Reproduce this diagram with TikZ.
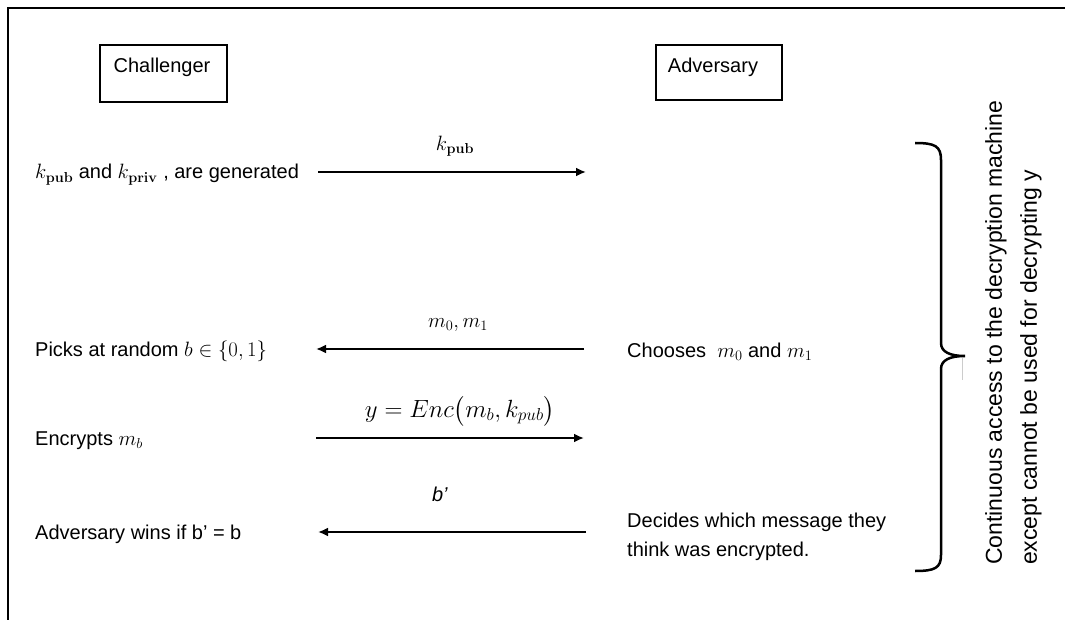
\documentclass[tikz,border=0pt]{standalone}
\usepackage{amsmath}
\usepackage[no-math]{fontspec}
\setmainfont{Liberation Sans}
\usetikzlibrary{arrows.meta}
\begin{document}
\begin{tikzpicture}[x=1pt,y=-1pt,
  txt/.style={font=\fontsize{20}{29}\selectfont, inner sep=0},
  box/.style={draw, line width=1.5pt, minimum width=127pt, minimum height=57pt, inner sep=0},
  msg/.style={line width=2.2pt, -{Latex[length=10pt,width=9pt]}},
  lbl/.style={font=\fontsize{20}{24}\selectfont, inner sep=0}]
\useasboundingbox (0,0) rectangle (1065,620);
% frame
\draw[line width=2pt] (8,620) -- (8,8) -- (1065,8);
% participants
\node[box] (chbox) at (163.5,73.5) {};
\node[txt, anchor=base] (ch) at (162,73) {Challenger};
\node[box, minimum width=126pt, minimum height=55pt] (adbox) at (719,72.5) {};
\node[txt, anchor=base] (ad) at (713,73) {Adversary};
% row 1
\node[txt, anchor=base west] (gen) at (35,179) {$k_{\mathbf{pub}}$ and $k_{\mathbf{priv}}$ , are generated};
\coordinate (a1s) at (318,172);
\coordinate (a1e) at (586,172);
\draw[msg] (a1s) -- (a1e);
\node[lbl] (l1) at (455,146) {$k_{\mathbf{pub}}$};
% row 2
\node[txt, anchor=base west] (pick) at (35,356) {Picks at random $b \in \{0,1\}$};
\coordinate (a2s) at (584,349);
\coordinate (a2e) at (316,349);
\draw[msg] (a2s) -- (a2e);
\node[lbl] (l2) at (458,325) {$m_0, m_1$};
\node[txt, anchor=base west] (choose) at (627,357) {Chooses\ \ $m_0$ and $m_1$};
% row 3
\node[lbl, font=\fontsize{23}{27}\selectfont] (l3) at (460,411) {$y = Enc\bigl(m_b, k_{pub}\bigr)$};
\node[txt, anchor=base west] (enc) at (35,445) {Encrypts $m_b$};
\coordinate (a3s) at (316,438);
\coordinate (a3e) at (584,438);
\draw[msg] (a3s) -- (a3e);
% row 4
\node[lbl] (l4) at (440,494) {\textit{b’}};
\node[txt, anchor=base west] (wins) at (35,539) {Adversary wins if b’ = b};
\coordinate (a4s) at (586,532);
\coordinate (a4e) at (318,532);
\draw[msg] (a4s) -- (a4e);
\node[txt, anchor=north west, align=left] (decide) at (627,513) {Decides which message they\\think was encrypted.};
% brace
\draw[line width=2.5pt] (915,143) .. controls (935,143) and (941,146) .. (941,160)
  -- (941,343) .. controls (941,352) and (950,356) .. (965,356)
  .. controls (950,356) and (941,360) .. (941,369)
  -- (941,555) .. controls (941,568) and (935,571) .. (915,571);
\draw[gray!40, line width=0.8pt] (962,358) -- (962,380);
% side note
\node[rotate=90, anchor=north west, align=left, inner sep=0, font=\fontsize{23}{35}\selectfont] (acc) at (985,565) {Continuous access to the decryption machine\\except cannot be used for decrypting y};
\end{tikzpicture}
\end{document}
